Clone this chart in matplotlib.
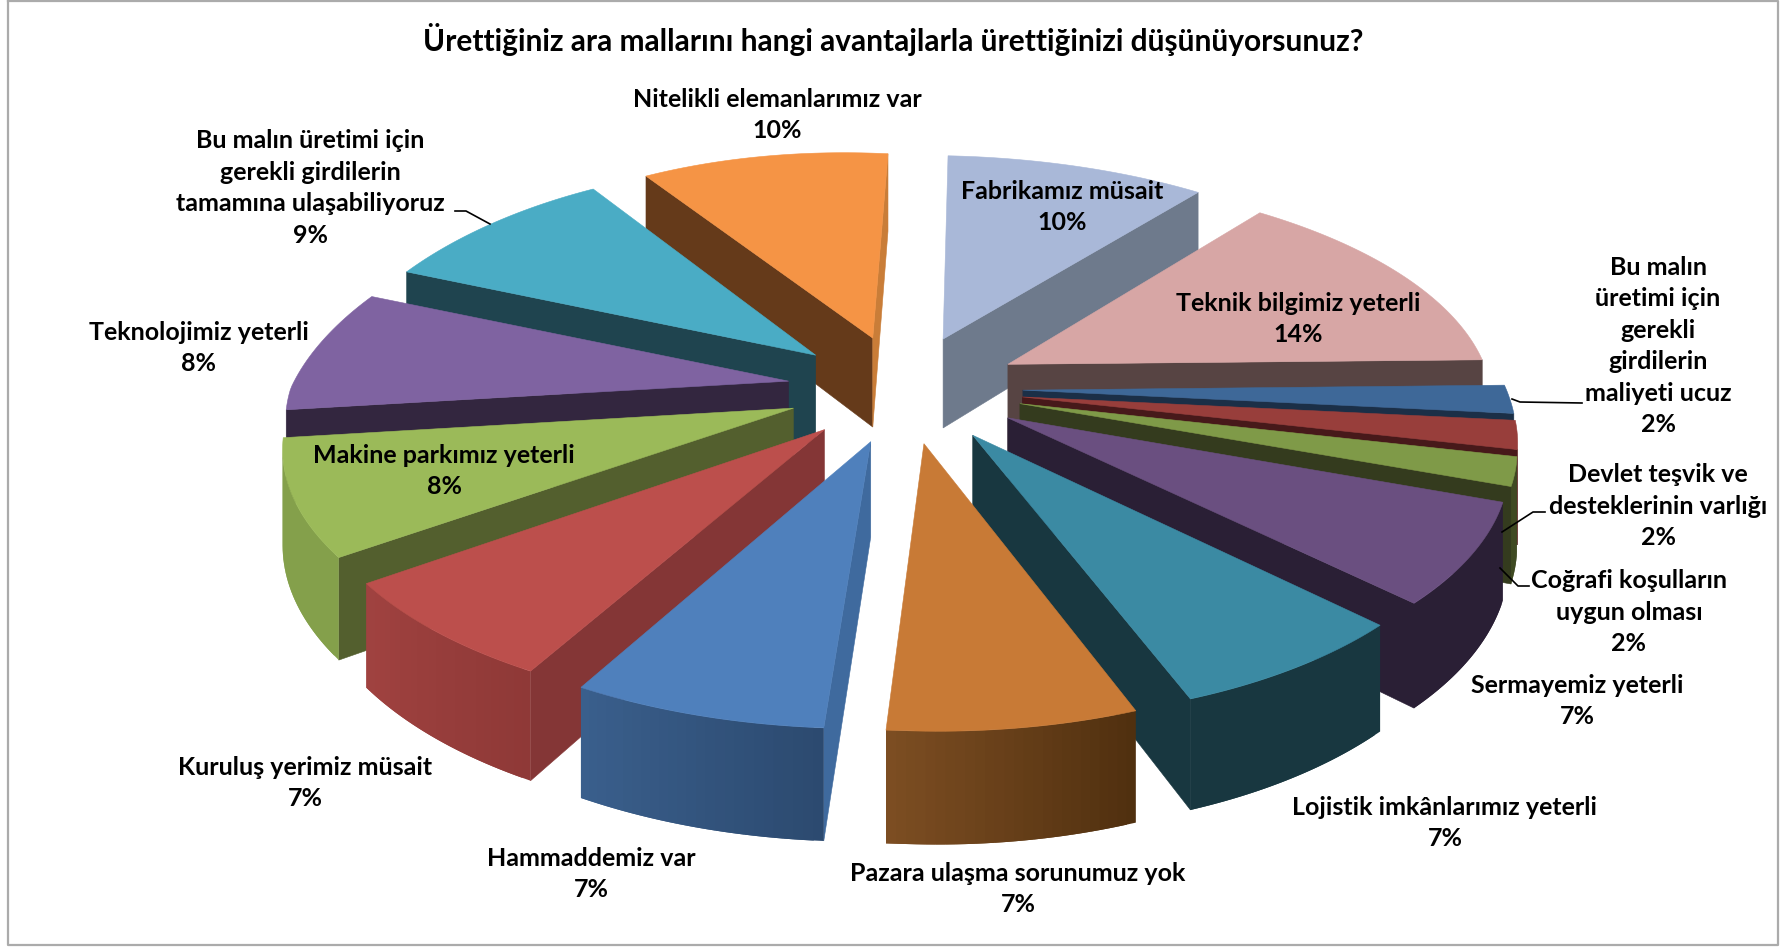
## ara mallari 3D pie ##
import numpy as np
import matplotlib.pyplot as plt
from matplotlib.colors import to_rgb
from matplotlib.patches import Polygon

plt.rcParams['font.family'] = ['Lato', 'DejaVu Sans']

# Data #
title = 'Ürettiğiniz ara mallarını hangi avantajlarla ürettiğinizi düşünüyorsunuz?'
categories = ['Fabrikamız müsait', 'Teknik bilgimiz yeterli',
    'Bu malın\nüretimi için\ngerekli\ngirdilerin\nmaliyeti ucuz',
    'Devlet teşvik ve\ndesteklerinin varlığı', 'Coğrafi koşulların\nuygun olması',
    'Sermayemiz yeterli', 'Lojistik imkânlarımız yeterli', 'Pazara ulaşma sorunumuz yok',
    'Hammaddemiz var', 'Kuruluş yerimiz müsait', 'Makine parkımız yeterli',
    'Teknolojimiz yeterli', 'Bu malın üretimi için\ngerekli girdilerin\ntamamına ulaşabiliyoruz',
    'Nitelikli elemanlarımız var']
values = [10, 14, 2, 2, 2, 7, 7, 7, 7, 7, 8, 8, 9, 10]

# Colours: top, radial wall (start edge, end edge), outer wall (start, end) #
top_col = ['#A9B8D8', '#D7A6A5', '#3E6898', '#983E3B', '#7F9A48', '#6A4F80', '#3B8AA3',
    '#C87A36', '#4F80BC', '#BC4F4C', '#9BBA59', '#7F63A1', '#4AACC5', '#F59445']
rad0_col = ['#6E7A8C', '#574443', '#1B2F47', '#47191A', '#343B1E', '#2A1F35', '#183740',
    '#50300F', '#3F6A9E', '#843636', '#535F2E', '#33263F', '#1F444F', '#653A1A']
rad1_col = ['#6E7A8C', '#574443', '#1B2F47', '#47191A', '#343B1E', '#2A1F35', '#183740',
    '#50300F', '#3F6A9E', '#843636', '#535F2E', '#33263F', '#1F444F', '#C97D38']
out0_col = ['#6E7A8C', '#574443', '#2E5078', '#7A2D2B', '#3F4A22', '#2A1F35', '#183740',
    '#50300F', '#2C4A70', '#8F3937', '#84A04B', '#33263F', '#1F444F', '#653A1A']
out1_col = ['#6E7A8C', '#574443', '#2E5078', '#7A2D2B', '#3F4A22', '#2A1F35', '#183740',
    '#7C4D22', '#3A5F8C', '#A04240', '#84A04B', '#33263F', '#1F444F', '#653A1A']

# Projection, in picture pixels #
cx, cy = 906, 388
A_left, A_right, B, H = 497, 487, 225, 92
kx, ky = 0.135, 0.152
explode = 0.24
shear_back, shear_front = 9, 4
drop = 9
skew_x, skew_y = 28, 15

def project(u, v, z=0):
    sx = 1 / (1 - kx * v)
    sy = 1 / (1 - ky * v)
    x = cx + (A_right if u > 0 else A_left) * u * sx - (shear_front if v > 0 else shear_back) * v
    y = cy + B * v * sy + H * sy * z + (drop * u if u > 0 else 0)
    # back left part of the pie leans up and to the right
    if u < 0 and v < 0:
        x += skew_x * u * v
        y -= skew_y * u * v
    return x, y

def world(theta, r, off_u, off_v):
    return off_u + r * np.sin(theta), off_v - r * np.cos(theta)

def mix(c0, c1, t):
    a, b = np.array(to_rgb(c0)), np.array(to_rgb(c1))
    return tuple(a + (b - a) * t)

def face(ax, pts, col, zo, lw=0.4):
    ax.add_patch(Polygon(pts, closed=True, facecolor=col, edgecolor=col, lw=lw, zorder=zo))

fig = plt.figure(figsize=(17.8, 9.47), dpi=100)
ax = fig.add_axes([0, 0, 1, 1])
ax.set_xlim(0, 1780)
ax.set_ylim(947, 0)
ax.axis('off')

# Chart frame #
ax.plot([8, 8, 1778, 1778, 8], [1, 945, 945, 1, 1], color='#ABABAB', lw=1.6, zorder=1)

# Slices, back to front #
frac = np.array(values) / sum(values)
ends = np.cumsum(frac) * 2 * np.pi
starts = ends - frac * 2 * np.pi
mids = (starts + ends) / 2
order = np.argsort(-np.cos(mids))

zo = 2
for i in order:
    ou, ov = explode * np.sin(mids[i]), -explode * np.cos(mids[i])
    th = np.linspace(starts[i], ends[i], int(np.degrees(ends[i] - starts[i])) + 2)
    rim = [world(t, 1, ou, ov) for t in th]
    top = [project(ou, ov)] + [project(u, v) for u, v in rim]
    bot = [project(ou, ov, 1)] + [project(u, v, 1) for u, v in rim]

    # radial walls
    if top[1][0] < top[0][0]:
        face(ax, [top[0], top[1], bot[1], bot[0]], rad0_col[i], zo)
    if top[-1][0] > top[0][0]:
        face(ax, [top[0], top[-1], bot[-1], bot[0]], rad1_col[i], zo)
    # outer wall, pieces overlap so no seams show
    n = len(rim)
    for j in range(1, n):
        if top[j + 1][0] < top[j][0]:
            e = min(j + 2, n)
            face(ax, [top[j], top[e], bot[e], bot[j]],
                mix(out0_col[i], out1_col[i], (j - 1) / max(n - 2, 1)), zo, lw=0)
    face(ax, top, top_col[i], zo + 0.5)
    zo += 1

# Labels #
label_x = [1062, 1298, 1658, 1658, 1629, 1577, 1445, 1018, 591, 305, 444, 199, 310, 777]
label_y = [207, 319, 346, 506, 612, 701, 823, 889, 874, 783, 471, 348, 188, 115]
for name, val, x, y in zip(categories, values, label_x, label_y):
    ax.text(x, y, name + '\n' + str(val) + '%', ha='center', va='center', fontsize=18,
        fontweight='bold', color='black', linespacing=1.45, zorder=100)
ax.text(893, 39, title, ha='center', va='center', fontsize=21.55, fontweight='bold',
    color='black', zorder=100)

# Leader lines #
leaders = [([455, 466, 490], [211, 211, 224]), ([1582, 1520, 1512], [403, 402, 399]),
    ([1545, 1533, 1502], [512, 512, 532]), ([1529, 1518, 1500], [586, 586, 568])]
for xs, ys in leaders:
    ax.plot(xs, ys, color='black', lw=1.2, zorder=99)

plt.savefig('out.png', dpi=100)
